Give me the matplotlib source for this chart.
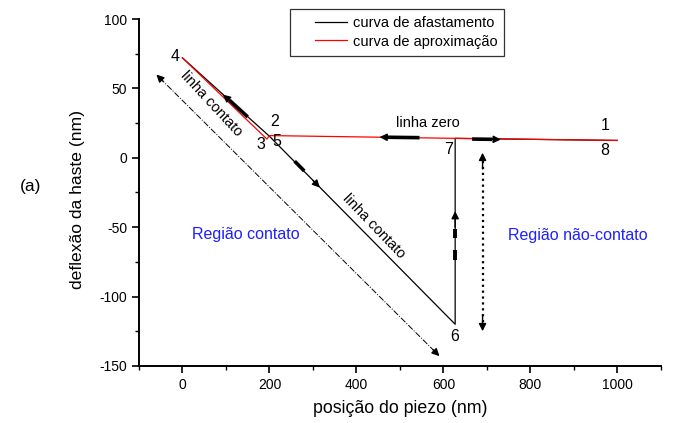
import matplotlib
matplotlib.use("Agg")
import matplotlib.pyplot as plt
from matplotlib.ticker import MultipleLocator
from matplotlib.legend_handler import HandlerLine2D

plt.rcParams['font.family'] = ['Liberation Sans', 'DejaVu Sans']
plt.rcParams['axes.unicode_minus'] = False

# Retraction curve (curva de afastamento): 4 -> 5 -> 6 -> 7 -> 8
x_afast = [0, 200, 627, 627, 1000]
y_afast = [72, 15.5, -120, 14, 12.5]

# Approach curve (curva de aproximação): 1 -> 2 -> 3 -> 4
x_aprox = [1000, 630, 200, 194, 0]
y_aprox = [12.5, 14, 16, 13.5, 72]

# Numbered points along the cycle
point_labels = ['1', '2', '3', '4', '5', '6', '7', '8']
point_x = [973, 212, 181, -18, 216, 627, 612, 970]
point_y = [23, 26.5, 9.5, 73, 12, -128.5, 6, 5]

x_ticks = [0, 200, 400, 600, 800, 1000]
y_ticks = [-150, -100, -50, 0, 50, 100]


class InsetLine(HandlerLine2D):
    """Legend line drawn only over the right part of the handle box."""
    def create_artists(self, legend, orig_handle, xdescent, ydescent,
                       width, height, fontsize, trans):
        arts = super().create_artists(legend, orig_handle, xdescent, ydescent,
                                      width, height, fontsize, trans)
        line = arts[0]
        xd = list(line.get_xdata())
        yd = list(line.get_ydata())
        x0, x1 = xd[0], xd[-1]
        line.set_data([x0 + 0.36 * (x1 - x0), x1], [yd[0], yd[0]])
        return arts


fig = plt.figure(figsize=(6.73, 4.23), dpi=100)
ax = fig.add_axes([0.2065, 0.135, 0.7755, 0.82])

ax.plot(x_afast, y_afast, color='black', lw=0.9, label='curva de afastamento')
ax.plot(x_aprox, y_aprox, color='red', lw=0.9, label='curva de aproximação')

ax.set_xlim(-100, 1100)
ax.set_ylim(-150, 100)
ax.set_xticks(x_ticks)
ax.set_yticks(y_ticks)
ax.xaxis.set_minor_locator(MultipleLocator(100))
ax.yaxis.set_minor_locator(MultipleLocator(25))
for s in ['top', 'right']:
    ax.spines[s].set_visible(False)
for s in ['left', 'bottom']:
    ax.spines[s].set_linewidth(1.4)
ax.tick_params(which='major', direction='out', length=5, width=1.2, labelsize=10)
ax.tick_params(which='minor', direction='out', length=3, width=1.0)

ax.set_xlabel('posição do piezo (nm)', fontsize=12.8, labelpad=6)
ax.set_ylabel('deflexão da haste (nm)', fontsize=12.6)
ax.yaxis.set_label_coords(-0.103, 0.48)
fig.text(0.045, 0.56, '(a)', fontsize=12.5, ha='center', va='center')

leg = ax.legend(loc='upper left', bbox_to_anchor=(0.289, 1.03), fontsize=10.5,
                frameon=True, fancybox=False, edgecolor='black',
                handlelength=3.4, handletextpad=0.4, borderpad=0.5,
                labelspacing=0.32, borderaxespad=0,
                handler_map={plt.Line2D: InsetLine()})
leg.get_frame().set_linewidth(0.9)

for lab, px, py in zip(point_labels, point_x, point_y):
    ax.text(px, py, lab, fontsize=11.5, ha='center', va='center')

ax.text(66, 38.7, 'linha contato', fontsize=10.5, rotation=-47,
        ha='center', va='center', rotation_mode='anchor')
ax.text(439, -49, 'linha contato', fontsize=10.5, rotation=-46,
        ha='center', va='center', rotation_mode='anchor')
ax.text(564, 25, 'linha zero', fontsize=10.5, ha='center', va='center')
ax.text(145, -55, 'Região contato', fontsize=11.5, color='#1f1fff',
        ha='center', va='center')
ax.text(910, -55.7, 'Região não-contato', fontsize=11.5, color='#1f1fff',
        ha='center', va='center')


def head(tip, tail, scale=11, lw=1.0):
    ax.annotate('', xy=tip, xytext=tail,
                arrowprops=dict(arrowstyle='-|>', color='black', lw=lw,
                                mutation_scale=scale, shrinkA=0, shrinkB=0))


# Thick direction arrows along the curves
ax.plot([150, 108], [29.5, 41.5], color='black', lw=2.6, solid_capstyle='butt')
head((93, 45.5), (108, 41.5))
ax.plot([545, 468], [14.5, 14.8], color='black', lw=2.6, solid_capstyle='butt')
head((453, 14.9), (468, 14.8))
ax.plot([666, 712], [13.5, 13.3], color='black', lw=2.6, solid_capstyle='butt')
head((732, 13.2), (712, 13.3))
ax.plot([258, 280], [-2.5, -9.5], color='black', lw=2.6, solid_capstyle='butt')
head((316, -21.5), (300, -16.3))
ax.plot([627, 627], [-51.5, -57.5], color='black', lw=2.8, solid_capstyle='butt')
ax.plot([627, 627], [-66.5, -73.5], color='black', lw=2.8, solid_capstyle='butt')
head((627, -38.4), (627, -50))

# Dotted double arrow across the non-contact region
ax.plot([690, 690], [-2, -119], color='black', lw=1.6, ls=':')
head((690, 3.6), (690, -8))
head((690, -125), (690, -113))

# Dash-dot double arrow parallel to the contact line
ax.plot([-52, 583], [57.5, -140.5], color='black', lw=0.7, ls='-.')
head((-60, 60), (-45, 55.3))
head((591, -143), (576, -138.3))

fig.savefig('out.png', dpi=100)
